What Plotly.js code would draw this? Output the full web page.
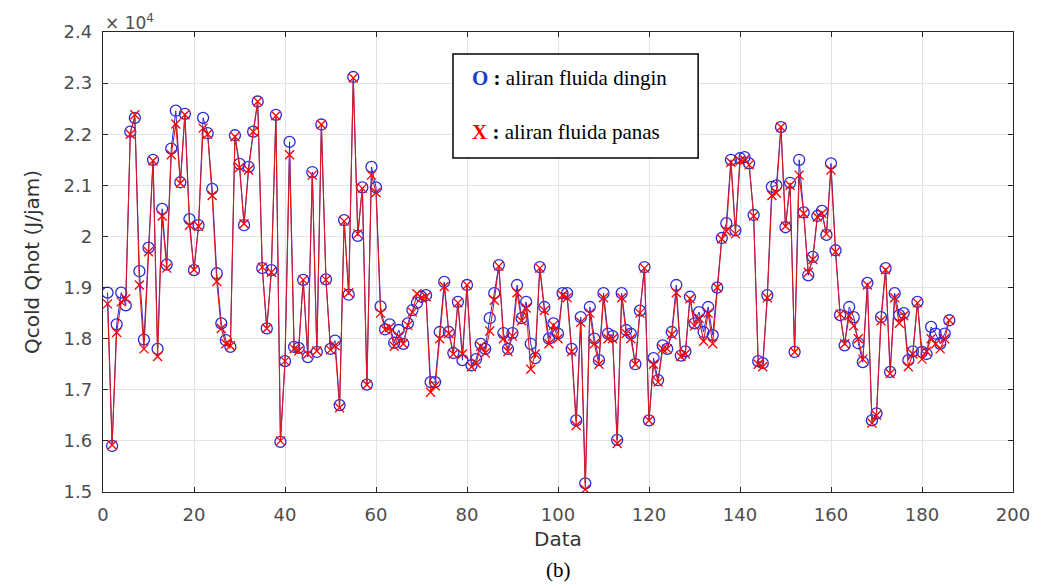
<!DOCTYPE html>
<html>
<head>
<meta charset="utf-8">
<script src="https://cdn.plot.ly/plotly-3.0.1.min.js"></script>
<style>html,body{margin:0;padding:0;background:#fff;}#chart{width:1046px;height:587px;}</style>
</head>
<body>
<div id="chart"></div>
<script>
// Qcold (blue circles), in J/jam
const qcold = [18900,15900,18280,18900,18650,22050,22320,19320,17980,19780,21500,17800,20540,19450,21720,22460,21060,22400,20340,19340,
20220,22320,22020,20930,19280,18300,17970,17840,21980,21420,20220,21360,22050,22640,19380,18200,19340,22380,15980,17560,
21850,17840,17820,19150,17640,21260,17740,22190,19160,17800,17960,16700,20320,18860,23120,20010,20960,17100,21360,20960,
18630,18180,18280,17920,18170,17900,18300,18560,18700,18820,18850,17150,17150,18130,19110,18130,17720,18720,17580,19050,
17480,17600,17900,17800,18400,18890,19440,18110,17800,18110,19050,18400,18720,17900,17620,19400,18620,18000,18300,18100,
18890,18890,17800,16400,18420,15170,18620,18000,17580,18890,18100,18050,16020,18890,18170,18100,17500,18550,19400,16400,
17620,17190,17870,17800,18130,19050,17670,17750,18820,18300,18520,18130,18620,18070,19000,19970,20260,21500,20120,21530,
21550,21430,20420,17560,17520,18850,20970,21000,22140,20180,21050,17740,21500,20470,19240,19600,20400,20500,20030,21430,
19730,18460,17870,18620,18420,17910,17540,19090,16400,16540,18420,19380,17350,18890,18460,18500,17580,17750,18720,17740,
17700,18230,18100,17900,18100,18360];
// Qhot (red crosses), in J/jam
const qhot = [18680,15920,18120,18720,18780,22000,22380,19050,17800,19700,21480,17650,20400,19380,21600,22200,21040,22380,20220,19350,
20200,22120,22000,20800,19120,18200,17900,17860,21950,21350,20250,21300,22050,22640,19400,18200,19300,22360,16000,17560,
21600,17800,17760,19150,17700,21200,17760,22190,19150,17780,17860,16650,20300,18900,23100,20050,20940,17100,21200,20860,
18500,18180,18220,17850,18050,17900,18260,18520,18880,18800,18820,16950,17080,18000,19020,18100,17700,18700,17700,19050,
17450,17520,17850,17720,18150,18750,19420,18000,17750,18050,18900,18350,18600,17400,17700,19380,18550,17900,18260,18000,
18850,18800,17750,16300,18320,15050,18500,17900,17500,18800,18000,18000,15950,18800,18100,18000,17500,18500,19380,16400,
17500,17150,17800,17800,18080,18900,17650,17700,18780,18250,18400,17950,18500,17900,19000,19950,20100,21450,20050,21480,
21500,21400,20400,17500,17450,18800,20800,20850,22140,20200,21000,17740,21200,20450,19300,19550,20380,20450,20050,21300,
19700,18480,17900,18450,18250,18000,17600,19050,16350,16500,18350,19350,17320,18800,18300,18450,17450,17700,18700,17600,
17750,18000,17900,17800,18000,18360];
const dataIdx = qcold.map((_, i) => i + 1);
const yTickVals = [15000,16000,17000,18000,19000,20000,21000,22000,23000,24000];
const yTickText = ['1.5','1.6','1.7','1.8','1.9','2','2.1','2.2','2.3','2.4'];
const xTickVals = [0,20,40,60,80,100,120,140,160,180,200];

const axisCol = '#262626';
const sans = 'DejaVu Sans, Liberation Sans, Arial, sans-serif';
const serif = 'Liberation Serif, Times New Roman, serif';
const tickFont = {family: sans, size: 18, color: '#4d4d4d'};

const traces = [
  {x: dataIdx, y: qcold, type: 'scatter', mode: 'lines+markers', name: 'Qcold',
   line: {color: '#2a2ad8', width: 1},
   marker: {symbol: 'circle-open', size: 11, color: '#2a2ad8', line: {width: 1.3, color: '#2a2ad8'}}},
  {x: dataIdx, y: qhot, type: 'scatter', mode: 'lines+markers', name: 'Qhot',
   line: {color: '#e01818', width: 1.1},
   marker: {symbol: 'x-thin-open', size: 9, color: '#ff0000', line: {width: 1.3, color: '#ff0000'}}}
];

const layout = {
  width: 1046, height: 587,
  margin: {l: 103, r: 33, t: 32, b: 95},
  paper_bgcolor: '#ffffff', plot_bgcolor: '#ffffff',
  showlegend: false,
  xaxis: {
    range: [0, 200], tickvals: xTickVals, ticks: 'inside', ticklen: 5, tickcolor: axisCol,
    showline: true, linecolor: axisCol, linewidth: 1.2, mirror: 'ticks', ticklabelstandoff: 6,
    showgrid: true, gridcolor: '#e3e3e3', zeroline: false, tickfont: tickFont,
    title: {text: 'Data', font: {family: sans, size: 20, color: '#333'}, standoff: 8}
  },
  yaxis: {
    range: [15000, 24000], tickvals: yTickVals, ticktext: yTickText, ticks: 'inside', ticklen: 5, tickcolor: axisCol,
    showline: true, linecolor: axisCol, linewidth: 1.2, mirror: 'ticks', ticklabelstandoff: 6,
    showgrid: true, gridcolor: '#e3e3e3', zeroline: false, tickfont: tickFont,
    title: {text: 'Qcold Qhot (J/jam)', font: {family: sans, size: 20, color: '#333'}, standoff: 18}
  },
  shapes: [
    {type: 'rect', xref: 'paper', yref: 'paper', x0: 0.3846, x1: 0.654, y0: 0.726, y1: 0.952,
     line: {color: '#000', width: 1.5}, fillcolor: '#ffffff', layer: 'above'}
  ],
  annotations: [
    {xref: 'paper', yref: 'paper', x: 0.403, y: 0.9, xanchor: 'left', yanchor: 'middle', showarrow: false,
     text: '<b><span style="color:#1a3fd0">O</span> :</b> aliran fluida dingin',
     font: {family: serif, size: 21, color: '#000'}},
    {xref: 'paper', yref: 'paper', x: 0.403, y: 0.783, xanchor: 'left', yanchor: 'middle', showarrow: false,
     text: '<b><span style="color:#ff0000">X</span> :</b> aliran fluida panas',
     font: {family: serif, size: 21, color: '#000'}},
    {xref: 'paper', yref: 'paper', x: 0.0, y: 1.0, xanchor: 'left', yanchor: 'bottom', showarrow: false,
     text: '× 10<sup>4</sup>', yshift: -3,
     font: {family: sans, size: 17, color: '#4d4d4d'}},
    {xref: 'paper', yref: 'paper', x: 0.5, y: -0.17, xanchor: 'center', yanchor: 'middle', showarrow: false,
     text: '(b)', font: {family: serif, size: 21, color: '#000'}}
  ]
};

Plotly.newPlot('chart', traces, layout, {staticPlot: true, displayModeBar: false});
</script>
</body>
</html>
